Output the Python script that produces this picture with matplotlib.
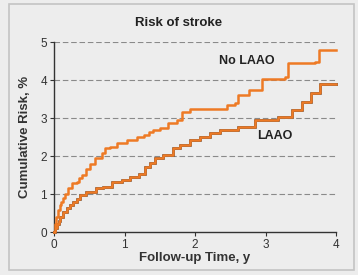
import numpy as np
import matplotlib
matplotlib.use("Agg")
import matplotlib.pyplot as plt
from matplotlib.patches import Rectangle
from matplotlib import font_manager

# cumulative stroke risk
no_laao_t = [0, 0.01, 0.03, 0.06, 0.08, 0.10, 0.13, 0.16, 0.20, 0.25, 0.32, 0.36, 0.39,
             0.45, 0.51, 0.58, 0.68, 0.72, 0.79, 0.89, 1.03, 1.17, 1.27, 1.34, 1.41,
             1.50, 1.62, 1.74, 1.81, 1.93, 2.40, 2.45, 2.57, 2.61, 2.76, 2.95, 3.28,
             3.32, 3.70, 3.75, 4.0]
no_laao_r = [0, 0.20, 0.40, 0.58, 0.70, 0.80, 0.90, 1.00, 1.15, 1.28, 1.32, 1.42, 1.50,
             1.65, 1.80, 1.95, 2.07, 2.20, 2.25, 2.35, 2.42, 2.49, 2.55, 2.64, 2.68,
             2.73, 2.86, 2.95, 3.17, 3.23, 3.23, 3.34, 3.39, 3.60, 3.74, 4.04, 4.09,
             4.44, 4.48, 4.79, 4.79]

laao_t = [0, 0.02, 0.04, 0.07, 0.09, 0.13, 0.18, 0.22, 0.27, 0.32, 0.37, 0.46, 0.60,
          0.70, 0.82, 0.96, 1.08, 1.20, 1.29, 1.36, 1.43, 1.55, 1.69, 1.79, 1.93,
          2.07, 2.21, 2.35, 2.50, 2.61, 2.76, 2.85, 3.18, 3.37, 3.51, 3.65, 3.77, 4.0]
laao_r = [0, 0.12, 0.20, 0.30, 0.40, 0.52, 0.63, 0.72, 0.80, 0.88, 0.97, 1.06, 1.15,
          1.19, 1.32, 1.37, 1.46, 1.54, 1.72, 1.81, 1.94, 2.03, 2.20, 2.29, 2.42,
          2.51, 2.60, 2.68, 2.68, 2.77, 2.77, 2.95, 3.03, 3.21, 3.43, 3.65, 3.91, 3.91]

x_ticks = [0, 1, 2, 3, 4]
y_ticks = [0, 1, 2, 3, 4, 5]

names = {f.name for f in font_manager.fontManager.ttflist}
fam = "Liberation Sans Narrow" if "Liberation Sans Narrow" in names else "Liberation Sans"
plt.rcParams["font.family"] = [fam, "DejaVu Sans"]

bg = "#ededed"
orange = "#ee7a25"

fig = plt.figure(figsize=(3.58, 2.75), dpi=100, facecolor=bg)
ax = fig.add_axes([0.151, 0.156, 0.788, 0.691], facecolor=bg)

# page frame of the scan
fig.patches.append(Rectangle((0.025, 0.02), 0.965, 0.965, transform=fig.transFigure,
                             fill=False, ec="#c4c4c4", lw=1.2))

for y in y_ticks[1:]:
    ax.axhline(y, color="#8a8a8a", lw=0.8, dashes=(5, 2.5), zorder=1)

ax.plot(no_laao_t, no_laao_r, drawstyle="steps-post", color=orange, lw=1.8,
        zorder=3, clip_on=False)

# the LAAO line changes tone along the way in the printed figure
laao_parts = [(0, 0.72, "#1a1a1a"), (0.72, 1.30, "#6e6e6e"), (1.30, 3.22, "#1a1a1a"),
              (3.22, 3.80, "#6e6e6e"), (3.80, 4.1, orange)]
for a, b, c in laao_parts:
    ln, = ax.plot(laao_t, laao_r, drawstyle="steps-post", color=c, lw=1.8, zorder=2,
                  clip_on=False)
    ln.set_clip_path(Rectangle((a, -1), b - a, 10, transform=ax.transData))

ax.text(2.74, 4.5, "No LAAO", fontsize=9, fontweight="bold", color="#222",
        ha="center", va="center")
ax.text(3.13, 2.53, "LAAO", fontsize=9, fontweight="bold", color="#222",
        ha="center", va="center")

ax.set_xlim(0, 4)
ax.set_ylim(0, 5)
ax.set_xticks(x_ticks)
ax.set_yticks(y_ticks)
ax.tick_params(labelsize=8.5, colors="#333", length=3, width=0.8, pad=2)
ax.spines[["top", "right"]].set_visible(False)
for s in ["left", "bottom"]:
    ax.spines[s].set_color("#333")
    ax.spines[s].set_linewidth(1.0)

ax.set_xlabel("Follow-up Time, y", fontsize=9.5, fontweight="bold", color="#333",
              labelpad=1)
ax.set_ylabel("Cumulative Risk, %", fontsize=9.5, fontweight="bold", color="#333",
              labelpad=7)
fig.text(0.5, 0.915, "Risk of stroke", fontsize=9.5, fontweight="bold", color="#222",
         ha="center", va="center")

fig.savefig("out.png", dpi=100, facecolor=bg)
